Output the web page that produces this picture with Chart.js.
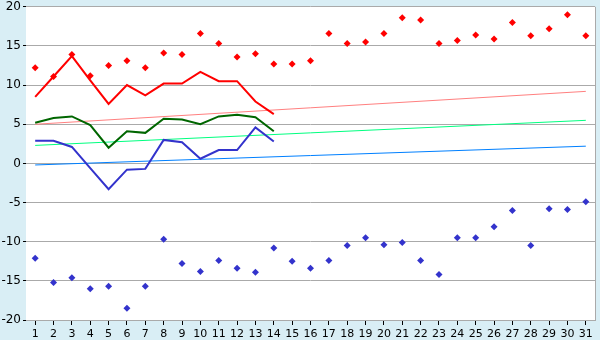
<!DOCTYPE html>
<html>
<head>
<meta charset="utf-8">
<script src="https://cdn.jsdelivr.net/npm/chart.js@4/dist/chart.umd.min.js"></script>
<style>
  html, body { margin: 0; padding: 0; background: #d9eef5; }
  #wrap { width: 600px; height: 340px; }
</style>
</head>
<body>
<div id="wrap"><canvas id="chart" width="600" height="340"></canvas></div>
<script>
// days of month
var days = ['1','2','3','4','5','6','7','8','9','10','11','12','13','14','15','16',
            '17','18','19','20','21','22','23','24','25','26','27','28','29','30','31'];

// record highs / lows (markers)
var recordMax = [12.2, 11.1, 13.9, 11.2, 12.5, 13.1, 12.2, 14.1, 13.9, 16.6, 15.3, 13.6, 14.0, 12.7, 12.7, 13.1,
                 16.6, 15.3, 15.5, 16.6, 18.6, 18.3, 15.3, 15.7, 16.4, 15.9, 18.0, 16.3, 17.2, 19.0, 16.3];
var recordMin = [-12.1, -15.2, -14.6, -16.0, -15.7, -18.5, -15.7, -9.7, -12.8, -13.8, -12.4, -13.4, -13.9, -10.8, -12.5, -13.4,
                 -12.4, -10.5, -9.5, -10.4, -10.1, -12.4, -14.2, -9.5, -9.5, -8.1, -6.0, -10.5, -5.8, -5.9, -4.9];

// this month so far (days 1-14)
var maxTemp  = [8.5, 11.1, 13.7, 10.6, 7.6, 10.0, 8.7, 10.2, 10.2, 11.7, 10.5, 10.5, 7.9, 6.3];
var meanTemp = [5.2, 5.8, 6.0, 4.9, 2.0, 4.1, 3.9, 5.7, 5.6, 5.0, 6.0, 6.2, 5.9, 4.1];
var minTemp  = [2.9, 2.9, 2.1, -0.6, -3.3, -0.8, -0.7, 3.0, 2.7, 0.6, 1.7, 1.7, 4.6, 2.8];

// long-term normals, start and end of month
var normMax  = [5.0, 9.2];
var normMean = [2.3, 5.5];
var normMin  = [-0.2, 2.2];

function ends(v) {
    return [{x: days[0], y: v[0]}, {x: days[days.length - 1], y: v[1]}];
}

var bgPlugin = {
    id: 'bg',
    beforeDraw: function(chart) {
        var c = chart.ctx, a = chart.chartArea;
        c.save();
        c.fillStyle = '#d9eef5';
        c.fillRect(0, 0, chart.width, chart.height);
        c.fillStyle = '#ffffff';
        c.fillRect(a.left, a.top, a.right - a.left, a.bottom - a.top);
        c.restore();
    },
    afterDatasetsDraw: function(chart) {
        var c = chart.ctx, a = chart.chartArea;
        c.save();
        c.strokeStyle = '#aaaaaa';
        c.lineWidth = 1;
        c.beginPath();
        c.moveTo(a.right + 0.5, a.top);
        c.lineTo(a.right + 0.5, a.bottom + 0.5);
        c.stroke();
        c.restore();
    }
};

var ctx = document.getElementById('chart').getContext('2d');
Chart.defaults.font.family = 'DejaVu Sans';
Chart.defaults.font.size = 11;
Chart.defaults.color = '#000';

var chart = new Chart(ctx, {
    type: 'line',
    data: {
        labels: days,
        datasets: [
            {data: ends(normMax),  borderColor: '#ff8080', borderWidth: 1, pointRadius: 0, order: 6},
            {data: ends(normMean), borderColor: '#00ff80', borderWidth: 1, pointRadius: 0, order: 6},
            {data: ends(normMin),  borderColor: '#0080ff', borderWidth: 1, pointRadius: 0, order: 6},
            {data: maxTemp,  borderColor: '#ff0000', borderWidth: 2, pointRadius: 0, order: 4},
            {data: meanTemp, borderColor: '#006600', borderWidth: 2, pointRadius: 0, order: 4},
            {data: minTemp,  borderColor: '#3333cc', borderWidth: 2, pointRadius: 0, order: 4},
            {data: recordMax, showLine: false, pointStyle: 'rectRot', pointRadius: 3.5, borderWidth: 0,
             backgroundColor: '#ff0000', borderColor: '#ff0000', order: 1},
            {data: recordMin, showLine: false, pointStyle: 'rectRot', pointRadius: 3.5, borderWidth: 0,
             backgroundColor: '#3333cc', borderColor: '#3333cc', order: 1}
        ]
    },
    options: {
        responsive: false,
        animation: false,
        events: [],
        layout: {padding: {top: 5, right: 5, left: 0, bottom: 0}},
        elements: {line: {tension: 0}},
        plugins: {legend: {display: false}, tooltip: {enabled: false}},
        scales: {
            x: {
                offset: true,
                grid: {drawOnChartArea: false, offset: false, tickLength: 5, tickColor: '#000'},
                border: {color: '#aaaaaa'},
                ticks: {padding: 3, maxRotation: 0, autoSkip: false, font: {size: 11}},
                afterFit: function(s) { s.height = 20; }
            },
            y: {
                min: -20, max: 20,
                grid: {color: '#aaaaaa', tickLength: 3, tickColor: '#000'},
                border: {display: false},
                ticks: {stepSize: 5, padding: 2, font: {size: 12, lineHeight: 0.8}},
                afterFit: function(s) { s.width = 26; }
            }
        }
    },
    plugins: [bgPlugin]
});
</script>
</body>
</html>
